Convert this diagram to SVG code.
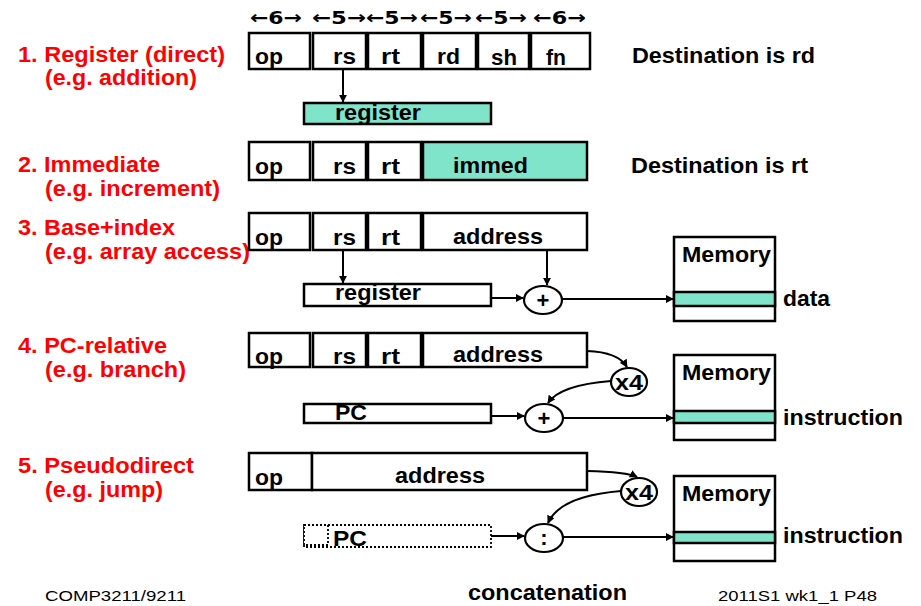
<svg xmlns="http://www.w3.org/2000/svg" width="921" height="606" viewBox="0 0 921 606">
<defs>
<marker id="ah" viewBox="0 0 10 10" refX="9" refY="5" markerWidth="8" markerHeight="8" markerUnits="userSpaceOnUse" orient="auto"><path d="M0,0 L10,5 L0,10 z" fill="#000"/></marker>
<style>
.t{font-family:"Liberation Sans",Arial,sans-serif;font-weight:bold;font-size:22px;fill:#000}
.b{font-family:"DejaVu Sans","Liberation Sans",sans-serif;font-weight:bold;font-size:18px;fill:#000}
.r{font-family:"Liberation Sans",Arial,sans-serif;font-weight:bold;font-size:22px;fill:#ff0000}
.f{font-family:"Liberation Sans",Arial,sans-serif;font-size:15px;fill:#000}
.c{fill:#fff;stroke:#000;stroke-width:2.5}
.h{fill:#7fe4c9;stroke:#000;stroke-width:2.5}
.w{fill:none;stroke:#000;stroke-width:2}
.e{fill:#fff;stroke:#000;stroke-width:2.2}
.d{fill:#fff;stroke:#000;stroke-width:1.8;stroke-dasharray:2 2}
</style>
</defs>
<rect width="921" height="606" fill="#fff"/>

<g id="labels">
<text class="r" x="18" y="62" textLength="207" lengthAdjust="spacingAndGlyphs">1. Register (direct)</text>
<text class="r" x="45" y="85" textLength="152" lengthAdjust="spacingAndGlyphs">(e.g. addition)</text>
<text class="r" x="18" y="172" textLength="142" lengthAdjust="spacingAndGlyphs">2. Immediate</text>
<text class="r" x="45" y="196" textLength="175" lengthAdjust="spacingAndGlyphs">(e.g. increment)</text>
<text class="r" x="18" y="235" textLength="157" lengthAdjust="spacingAndGlyphs">3. Base+index</text>
<text class="r" x="45" y="259" textLength="205" lengthAdjust="spacingAndGlyphs">(e.g. array access)</text>
<text class="r" x="18" y="353" textLength="149" lengthAdjust="spacingAndGlyphs">4. PC-relative</text>
<text class="r" x="45" y="377" textLength="141" lengthAdjust="spacingAndGlyphs">(e.g. branch)</text>
<text class="r" x="18" y="473" textLength="176" lengthAdjust="spacingAndGlyphs">5. Pseudodirect</text>
<text class="r" x="45" y="497" textLength="118" lengthAdjust="spacingAndGlyphs">(e.g. jump)</text>
</g>

<g id="bits">
<text class="b" x="250" y="24" textLength="52" lengthAdjust="spacingAndGlyphs">←6→</text>
<text class="b" x="312" y="24" textLength="54" lengthAdjust="spacingAndGlyphs">←5→</text>
<text class="b" x="366" y="24" textLength="52" lengthAdjust="spacingAndGlyphs">←5→</text>
<text class="b" x="420" y="24" textLength="52" lengthAdjust="spacingAndGlyphs">←5→</text>
<text class="b" x="475" y="24" textLength="52" lengthAdjust="spacingAndGlyphs">←5→</text>
<text class="b" x="533" y="24" textLength="53" lengthAdjust="spacingAndGlyphs">←6→</text>
</g>

<g id="row1">
<rect class="c" x="249" y="33" width="61" height="36"/>
<rect class="c" x="313" y="33" width="53" height="36"/>
<rect class="c" x="368" y="33" width="53" height="36"/>
<rect class="c" x="423" y="33" width="53" height="36"/>
<rect class="c" x="478" y="33" width="51" height="36"/>
<rect class="c" x="531" y="33" width="59" height="36"/>
<text class="t" x="255" y="64" textLength="28" lengthAdjust="spacingAndGlyphs">op</text>
<text class="t" x="333" y="64" textLength="23" lengthAdjust="spacingAndGlyphs">rs</text>
<text class="t" x="381" y="64" textLength="19" lengthAdjust="spacingAndGlyphs">rt</text>
<text class="t" x="437" y="64" textLength="23" lengthAdjust="spacingAndGlyphs">rd</text>
<text class="t" x="491" y="65" textLength="26" lengthAdjust="spacingAndGlyphs">sh</text>
<text class="t" x="546" y="65" textLength="20" lengthAdjust="spacingAndGlyphs">fn</text>
<text class="t" x="632" y="63" textLength="183" lengthAdjust="spacingAndGlyphs">Destination is rd</text>
</g>
<g id="reg1">
<rect class="h" x="304" y="103" width="187" height="21"/>
<text class="t" x="335" y="120" textLength="86" lengthAdjust="spacingAndGlyphs">register</text>
</g>

<g id="row2">
<rect class="c" x="249" y="142" width="61" height="38"/>
<rect class="c" x="313" y="142" width="53" height="38"/>
<rect class="c" x="368" y="142" width="53" height="38"/>
<rect class="h" x="423" y="142" width="164" height="38"/>
<text class="t" x="255" y="174" textLength="28" lengthAdjust="spacingAndGlyphs">op</text>
<text class="t" x="333" y="174" textLength="23" lengthAdjust="spacingAndGlyphs">rs</text>
<text class="t" x="381" y="174" textLength="19" lengthAdjust="spacingAndGlyphs">rt</text>
<text class="t" x="453" y="173" textLength="75" lengthAdjust="spacingAndGlyphs">immed</text>
<text class="t" x="631" y="173" textLength="177" lengthAdjust="spacingAndGlyphs">Destination is rt</text>
</g>

<g id="row3">
<rect class="c" x="249" y="213" width="61" height="37"/>
<rect class="c" x="313" y="213" width="53" height="37"/>
<rect class="c" x="368" y="213" width="53" height="37"/>
<rect class="c" x="423" y="213" width="164" height="37"/>
<text class="t" x="255" y="245" textLength="28" lengthAdjust="spacingAndGlyphs">op</text>
<text class="t" x="333" y="245" textLength="23" lengthAdjust="spacingAndGlyphs">rs</text>
<text class="t" x="381" y="245" textLength="19" lengthAdjust="spacingAndGlyphs">rt</text>
<text class="t" x="453" y="244" textLength="90" lengthAdjust="spacingAndGlyphs">address</text>
</g>
<g id="reg3">
<rect class="c" x="304" y="284" width="187" height="22"/>
<text class="t" x="335" y="300" textLength="86" lengthAdjust="spacingAndGlyphs">register</text>
</g>
<g id="plus3">
<ellipse class="e" cx="543" cy="300" rx="19" ry="14"/>
<text class="t" x="543" y="308" text-anchor="middle" font-size="17">+</text>
</g>
<g id="mem1">
<rect class="c" x="674" y="237" width="101" height="84"/>
<rect class="h" x="674" y="292" width="101" height="14"/>
<text class="t" x="682" y="262" textLength="89" lengthAdjust="spacingAndGlyphs">Memory</text>
<text class="t" x="783" y="306" textLength="47" lengthAdjust="spacingAndGlyphs">data</text>
</g>

<g id="row4">
<rect class="c" x="249" y="333" width="61" height="34"/>
<rect class="c" x="313" y="333" width="53" height="34"/>
<rect class="c" x="368" y="333" width="53" height="34"/>
<rect class="c" x="423" y="333" width="164" height="34"/>
<text class="t" x="255" y="364" textLength="28" lengthAdjust="spacingAndGlyphs">op</text>
<text class="t" x="333" y="364" textLength="23" lengthAdjust="spacingAndGlyphs">rs</text>
<text class="t" x="381" y="364" textLength="19" lengthAdjust="spacingAndGlyphs">rt</text>
<text class="t" x="453" y="362" textLength="90" lengthAdjust="spacingAndGlyphs">address</text>
</g>
<g id="x4a">
<ellipse class="e" cx="629" cy="382" rx="18" ry="14"/>
<text class="t" x="615" y="390" textLength="28" lengthAdjust="spacingAndGlyphs">x4</text>
</g>
<g id="pc4">
<rect class="c" x="304" y="404" width="187" height="19"/>
<text class="t" x="335" y="420" textLength="32" lengthAdjust="spacingAndGlyphs">PC</text>
</g>
<g id="plus4">
<ellipse class="e" cx="544" cy="418" rx="19" ry="14"/>
<text class="t" x="544" y="426" text-anchor="middle" font-size="17">+</text>
</g>
<g id="mem2">
<rect class="c" x="674" y="355" width="101" height="85"/>
<rect class="h" x="674" y="411" width="101" height="12"/>
<text class="t" x="682" y="380" textLength="89" lengthAdjust="spacingAndGlyphs">Memory</text>
<text class="t" x="783" y="425" textLength="120" lengthAdjust="spacingAndGlyphs">instruction</text>
</g>

<g id="row5">
<rect class="c" x="249" y="453" width="63" height="37"/>
<rect class="c" x="312" y="453" width="275" height="37"/>
<text class="t" x="255" y="485" textLength="28" lengthAdjust="spacingAndGlyphs">op</text>
<text class="t" x="395" y="483" textLength="90" lengthAdjust="spacingAndGlyphs">address</text>
</g>
<g id="x4b">
<ellipse class="e" cx="639" cy="492" rx="18" ry="14"/>
<text class="t" x="625" y="500" textLength="28" lengthAdjust="spacingAndGlyphs">x4</text>
</g>
<g id="pc5">
<rect class="d" x="304" y="525" width="187" height="22"/>
<rect class="d" x="304" y="525" width="24" height="20"/>
<text class="t" x="333" y="546" textLength="34" lengthAdjust="spacingAndGlyphs">PC</text>
</g>
<g id="colon5">
<ellipse class="e" cx="544" cy="538" rx="19" ry="14"/>
<text class="t" x="544" y="545" text-anchor="middle" font-size="17">:</text>
</g>
<g id="mem3">
<rect class="c" x="674" y="476" width="101" height="85"/>
<rect class="h" x="674" y="532" width="101" height="11"/>
<text class="t" x="682" y="501" textLength="89" lengthAdjust="spacingAndGlyphs">Memory</text>
<text class="t" x="783" y="543" textLength="120" lengthAdjust="spacingAndGlyphs">instruction</text>
</g>

<g id="connectors">
<line class="w" x1="343" y1="69" x2="343" y2="102" marker-end="url(#ah)"/>
<line class="w" x1="343" y1="250" x2="343" y2="283" marker-end="url(#ah)"/>
<line class="w" x1="547" y1="250" x2="547" y2="285" marker-end="url(#ah)"/>
<line class="w" x1="491" y1="298" x2="523" y2="298" marker-end="url(#ah)"/>
<line class="w" x1="562" y1="299" x2="673" y2="299" marker-end="url(#ah)"/>
<path class="w" d="M587,351 Q618,352 627,367" marker-end="url(#ah)"/>
<path class="w" d="M611,381 Q560,385 548,403" marker-end="url(#ah)"/>
<line class="w" x1="491" y1="416" x2="524" y2="416" marker-end="url(#ah)"/>
<line class="w" x1="563" y1="418" x2="673" y2="418" marker-end="url(#ah)"/>
<path class="w" d="M587,471 Q627,472 637,477" marker-end="url(#ah)"/>
<path class="w" d="M621,491 Q560,496 548,523" marker-end="url(#ah)"/>
<line class="w" x1="491" y1="536" x2="524" y2="536" marker-end="url(#ah)"/>
<line class="w" x1="563" y1="537" x2="673" y2="537" marker-end="url(#ah)"/>
</g>

<g id="footer">
<text class="f" x="45" y="601" textLength="141" lengthAdjust="spacingAndGlyphs">COMP3211/9211</text>
<text class="t" x="468" y="600" font-size="20" textLength="159" lengthAdjust="spacingAndGlyphs">concatenation</text>
<text class="f" x="718" y="601" textLength="159" lengthAdjust="spacingAndGlyphs">2011S1 wk1_1 P48</text>
</g>
</svg>
